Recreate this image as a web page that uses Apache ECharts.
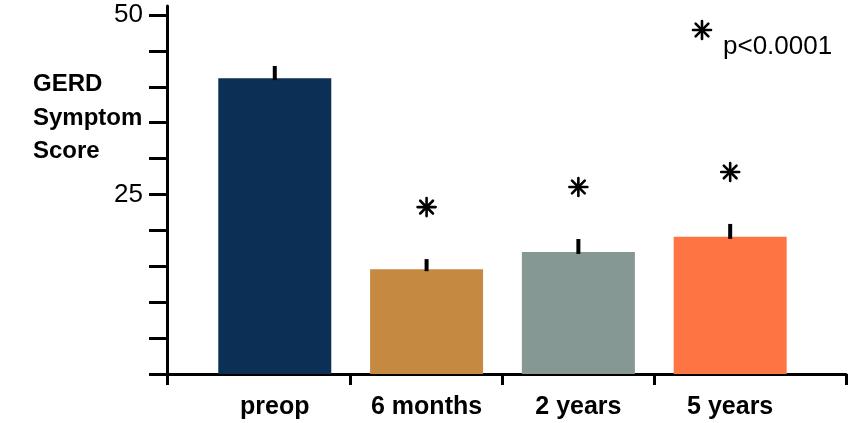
<!DOCTYPE html>
<html>
<head>
<meta charset="utf-8">
<script src="https://cdn.jsdelivr.net/npm/echarts@6/dist/echarts.min.js"></script>
<style>
  html, body { margin: 0; padding: 0; background: #ffffff; }
  #chart { width: 854px; height: 423px; }
</style>
</head>
<body>
<div id="chart"></div>
<script>
// GERD symptom score before surgery and at follow-up (mean with SEM)
const categories = ['preop', '6 months', '2 years', '5 years'];
const scores = [41.2, 14.6, 17.0, 19.1];
const sem = [1.7, 1.4, 1.8, 1.8];
const significant = [false, true, true, true];
const barColors = ['#0c2f55', '#c68942', '#859894', '#fe7442'];
const yTickValues = [0, 5, 10, 15, 20, 25, 30, 35, 40, 45, 50];
const yLabelValues = [25, 50];
const pValueText = 'p<0.0001';
const axisTitle = 'GERD\nSymptom\nScore';

const FONT = '"Liberation Sans", Arial, sans-serif';

// categories sit at 1..n on a value axis so the frame can run past the outer bars
const xMin = 0.29;
const xMax = 4.763;
const catPos = categories.map((c, i) => i + 1);
const boundaryTicks = [xMin].concat(catPos.slice(1).map(p => p - 0.5), [xMax]);

// significance marker: eight-spoke asterisk built from four strokes
function asteriskShape(cx, cy, r) {
  const parts = [];
  for (let k = 0; k < 4; k++) {
    const a = k * Math.PI / 4;
    const dx = Math.sin(a) * r, dy = Math.cos(a) * r;
    parts.push({
      type: 'line',
      shape: { x1: cx - dx, y1: cy - dy, x2: cx + dx, y2: cy + dy },
      style: { stroke: '#000', lineWidth: 2.6, lineCap: 'round' }
    });
  }
  return parts;
}

const chart = echarts.init(document.getElementById('chart'), null, { renderer: 'canvas' });

const option = {
  animation: false,
  backgroundColor: '#ffffff',
  grid: { left: 167, right: 8, top: 6, bottom: 49 },
  xAxis: {
    type: 'value',
    min: xMin,
    max: xMax,
    splitLine: { show: false },
    axisLine: { show: true, lineStyle: { color: '#000', width: 3 } },
    axisTick: { show: true, length: 11, lineStyle: { color: '#000', width: 3 }, customValues: boundaryTicks },
    axisLabel: {
      customValues: catPos,
      formatter: v => categories[Math.round(v) - 1] || '',
      color: '#000',
      fontFamily: FONT,
      fontWeight: 'bold',
      fontSize: 25,
      margin: 21
    }
  },
  yAxis: {
    type: 'value',
    min: 0,
    max: 51.25,
    splitLine: { show: false },
    axisLine: { show: true, lineStyle: { color: '#000', width: 3 } },
    axisTick: { show: true, length: 18, lineStyle: { color: '#000', width: 3 }, customValues: yTickValues },
    axisLabel: {
      customValues: yLabelValues,
      color: '#000',
      fontFamily: FONT,
      fontSize: 26,
      margin: 24
    }
  },
  graphic: [
    {
      type: 'text',
      x: 33, y: 68,
      style: {
        text: axisTitle,
        fontFamily: FONT,
        fontWeight: 'bold',
        fontSize: 24,
        lineHeight: 33.5,
        fill: '#000',
        align: 'left',
        verticalAlign: 'top'
      }
    },
    {
      type: 'group',
      children: asteriskShape(702, 30, 9)
    },
    {
      type: 'text',
      x: 723, y: 47,
      style: { text: pValueText, fontFamily: FONT, fontSize: 26, fill: '#000', align: 'left', verticalAlign: 'middle' }
    }
  ],
  series: [
    {
      type: 'bar',
      barWidth: 113,
      data: categories.map((c, i) => ({ value: [catPos[i], scores[i]], itemStyle: { color: barColors[i] } }))
    },
    {
      type: 'custom',
      clip: false,
      z: 3,
      data: categories.map((c, i) => [catPos[i], scores[i], sem[i], significant[i] ? 1 : 0]),
      renderItem: function (params, api) {
        const x = api.value(0);
        const v = api.value(1);
        const e = api.value(2);
        const base = api.coord([x, v]);
        const top = api.coord([x, v + e]);
        let children = [{
          type: 'line',
          shape: { x1: base[0], y1: base[1] + 2, x2: top[0], y2: top[1] },
          style: { stroke: '#000', lineWidth: 4 }
        }];
        if (api.value(3)) {
          children = children.concat(asteriskShape(top[0], top[1] - 52, 9));
        }
        return { type: 'group', children: children };
      }
    }
  ]
};

chart.setOption(option);
</script>
</body>
</html>
